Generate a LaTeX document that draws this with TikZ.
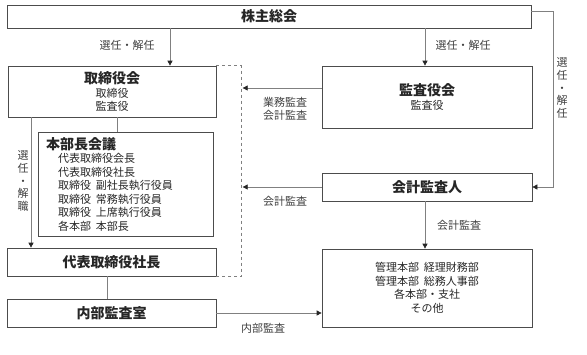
\documentclass[tikz,border=0pt]{standalone}
\usepackage{fontspec}
\setmainfont{Noto Sans CJK JP}
\usetikzlibrary{arrows.meta, positioning, calc}

\newcommand{\judul}{\fontsize{14}{16}\selectfont\bfseries}

\begin{document}
\begin{tikzpicture}[
    x=1pt, y=-1pt,
    font=\fontsize{11}{13.5}\selectfont,
    kotak/.style={draw=black!70, line width=0.7pt, inner sep=0pt, align=center, text=black!85},
    garis/.style={draw=black!50, line width=0.7pt},
    panah/.style={garis, -{Triangle[length=5pt, width=5pt, color=black!85]}},
    ket/.style={text=black!75, align=center, inner sep=0pt}
  ]
    \useasboundingbox (0,0) rectangle (587,354);

    \node[kotak, minimum width=524, minimum height=23] (rapat) at (269,16.5) {\judul 株主総会};
    \node[kotak, minimum width=208, minimum height=51] (dewan) at (112,91.5) {{\judul 取締役会}\\取締役\\監査役};
    \node[kotak, minimum width=210, minimum height=62] (kansa) at (427,97) {{\judul 監査役会}\\監査役};
    \node[kotak, minimum width=175, minimum height=104, text width=159, inner xsep=8, align=left] (honbu) at (125.5,184)
      {{\judul 本部長会議}\\
       \hspace*{12pt}代表取締役会長\\
       \hspace*{12pt}代表取締役社長\\
       \hspace*{12pt}取締役\hspace{5pt}副社長執行役員\\
       \hspace*{12pt}取締役\hspace{5pt}常務執行役員\\
       \hspace*{12pt}取締役\hspace{5pt}上席執行役員\\
       \hspace*{12pt}各本部\hspace{5pt}本部長};
    \node[kotak, minimum width=209, minimum height=28] (ketua) at (111.5,262) {\judul 代表取締役社長};
    \node[kotak, minimum width=209, minimum height=28] (naibu) at (111.5,313) {\judul 内部監査室};
    \node[kotak, minimum width=210, minimum height=28] (akuntan) at (427,187) {\judul 会計監査人};
    \node[kotak, minimum width=210, minimum height=78] (bumon) at (427,288)
      {管理本部\hspace{5pt}経理財務部\\管理本部\hspace{5pt}総務人事部\\各本部・支社\\その他};

    % dari rapat
    \draw[panah] ([xshift=-99]rapat.south) -- ([xshift=-99]rapat.south |- dewan.north);
    \draw[panah] ([xshift=156]rapat.south) -- ([xshift=156]rapat.south |- kansa.north);
    \draw[panah] ([yshift=5.5]rapat.east) -- ++(22,0) |- (akuntan.east);
    \node[ket] at (127,45) {選任・解任};
    \node[ket] at (463,45) {選任・解任};
    \node[ket, font=\fontsize{11}{12.75}\selectfont] at (562,88) {選\\任\\・\\解\\任};

    % garis putus
    \draw[garis, dashed] (dewan.north east) -- ++(25,0) |- (ketua.south east);

    \draw[panah] ([yshift=9]kansa.west) -- ++(-79,0);
    \node[ket, font=\fontsize{11}{12.5}\selectfont] at (285,109) {業務監査\\会計監査};
    \draw[panah] (akuntan.west) -- ++(-79,0);
    \node[ket] at (285,201) {会計監査};
    \draw[panah] ([xshift=-2]akuntan.south) -- ([xshift=-2]akuntan.south |- bumon.north);
    \node[ket] at (459,225) {会計監査};

    \draw[panah] ([xshift=-81]dewan.south) -- ([xshift=-81]dewan.south |- ketua.north);
    \node[ket, font=\fontsize{11}{12.75}\selectfont] at (23,181) {選\\任\\・\\解\\職};
    \draw[garis] ([xshift=5]dewan.south) -- ([xshift=5]dewan.south |- honbu.north);
    \draw[garis] ([xshift=-4.5]ketua.south) -- ([xshift=-4.5]ketua.south |- naibu.north);
    \draw[panah] (naibu.east) -- (naibu.east -| bumon.west);
    \node[ket] at (263,328) {内部監査};
  \end{tikzpicture}
\end{document}
